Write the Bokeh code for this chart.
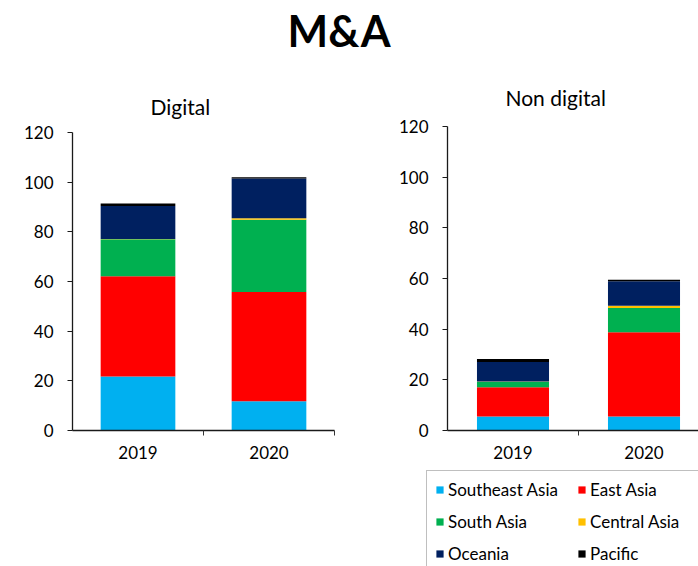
from bokeh.plotting import figure
from bokeh.layouts import column, row
from bokeh.models import (ColumnDataSource, FixedTicker, Range1d, Title, Legend, LegendItem)
from bokeh.embed import file_html
from bokeh.resources import INLINE

# ---------------- data ----------------
years = ["2019", "2020"]
regions = ["Southeast Asia", "East Asia", "South Asia", "Central Asia", "Oceania", "Pacific"]
colors = ["#00B0F0", "#FF0000", "#00B050", "#FFC000", "#002060", "#000000"]

digital_southeast = [21.7, 11.8]
digital_east = [40.4, 44.0]
digital_south = [14.9, 29.1]
digital_central = [0.1, 0.6]
digital_oceania = [13.3, 16.0]
digital_pacific = [1.0, 0.5]

nondigital_southeast = [5.5, 5.5]
nondigital_east = [11.6, 33.3]
nondigital_south = [2.1, 9.6]
nondigital_central = [0.1, 0.8]
nondigital_oceania = [7.7, 9.7]
nondigital_pacific = [1.2, 0.6]

y_ticks = [0, 20, 40, 60, 80, 100, 120]

FONT = "Lato"
TXT = "#000000"

x_centers = [i + 0.5 for i in range(len(years))]
x_bounds = [i + 1.0 for i in range(len(years))]


def make_source(vals):
    d = {"x": x_centers}
    for r, v in zip(regions, vals):
        d[r] = v
    return ColumnDataSource(d)


def style(p, x_end, title_text, title_offset, title_standoff):
    p.frame_align = False
    p.x_range = Range1d(0, x_end)
    p.y_range = Range1d(0, 120)
    p.grid.visible = False
    p.outline_line_color = None
    p.background_fill_color = "white"
    p.border_fill_color = "white"

    xa = p.xaxis[0]
    xa.ticker = FixedTicker(ticks=x_centers, minor_ticks=x_bounds)
    xa.major_label_overrides = {c: y for c, y in zip(x_centers, years)}
    xa.major_tick_in = 0
    xa.major_tick_out = 0
    xa.minor_tick_in = 0
    xa.minor_tick_out = 5
    xa.minor_tick_line_color = "#333333"
    xa.axis_line_color = "#1a1a1a"
    xa.axis_line_width = 1.3
    xa.major_label_standoff = 10
    xa.major_label_text_font = FONT
    xa.major_label_text_font_size = "17px"
    xa.major_label_text_color = TXT

    ya = p.yaxis[0]
    ya.ticker = FixedTicker(ticks=y_ticks)
    ya.minor_tick_line_color = None
    ya.major_tick_in = 0
    ya.major_tick_out = 5
    ya.major_tick_line_color = "#1a1a1a"
    ya.axis_line_color = "#1a1a1a"
    ya.axis_line_width = 1.3
    ya.major_label_standoff = 14
    ya.major_label_text_font = FONT
    ya.major_label_text_font_size = "17px"
    ya.major_label_text_color = TXT

    p.title = Title(text=title_text, align="left", offset=title_offset,
                    text_font=FONT, text_font_size="21px",
                    text_font_style="normal", text_color=TXT, standoff=title_standoff)


# ---------------- header ----------------
head = figure(width=698, height=62, toolbar_location=None, output_backend="svg",
              x_axis_location=None, y_axis_location=None, min_border=0)
head.outline_line_color = None
head.grid.visible = False
head.title = Title(text="M&A", align="left", offset=287, text_font=FONT,
                   text_font_size="43px", text_font_style="bold", text_color=TXT, standoff=4)

# ---------------- digital ----------------
p1 = figure(width=348, height=408, toolbar_location=None, output_backend="svg",
            min_border_left=72, min_border_right=14, min_border_top=70, min_border_bottom=40)
style(p1, 2.0, "Digital", 78, 28)
src1 = make_source([digital_southeast, digital_east, digital_south,
                    digital_central, digital_oceania, digital_pacific])
p1.vbar_stack(regions, x="x", width=0.57, color=colors, source=src1, line_color=None)

# ---------------- non digital ----------------
p2 = figure(width=350, height=408, toolbar_location=None, output_backend="svg",
            min_border_left=99, min_border_right=0, min_border_top=64, min_border_bottom=40)
style(p2, 1.916, "Non digital", 58, 34)
src2 = make_source([nondigital_southeast, nondigital_east, nondigital_south,
                    nondigital_central, nondigital_oceania, nondigital_pacific])
p2.vbar_stack(regions, x="x", width=0.55, color=colors, source=src2, line_color=None)

# ---------------- legend (own panel under the right chart) ----------------
# The legend's renderers reuse the same stacked source; this panel's y range lies
# below zero, so the bars themselves stay out of view and only the swatches show.
legfig = figure(width=350, height=96, toolbar_location=None, output_backend="svg",
                x_axis_location=None, y_axis_location=None, min_border=0,
                x_range=Range1d(0, 1), y_range=Range1d(-2, -1))
legfig.frame_align = False
legfig.outline_line_color = None
legfig.grid.visible = False
swatches = legfig.vbar_stack(regions, x="x", width=0.55, color=colors, source=src2,
                             line_color=None)

legend = Legend(items=[LegendItem(label=r, renderers=[g]) for r, g in zip(regions, swatches)],
                location=(78, -7), orientation="horizontal", ncols=2,
                label_text_font=FONT, label_text_font_size="17px", label_text_color=TXT,
                glyph_width=9, glyph_height=9, label_standoff=4,
                label_height=21, label_width=118, spacing=11, padding=8, margin=0,
                border_line_color="#7f7f7f", border_line_width=1,
                background_fill_color="white", background_fill_alpha=1.0)
legfig.add_layout(legend, "center")

layout = column(head, row(p1, column(p2, legfig)))

open("out.html", "w").write(file_html(layout, INLINE))
